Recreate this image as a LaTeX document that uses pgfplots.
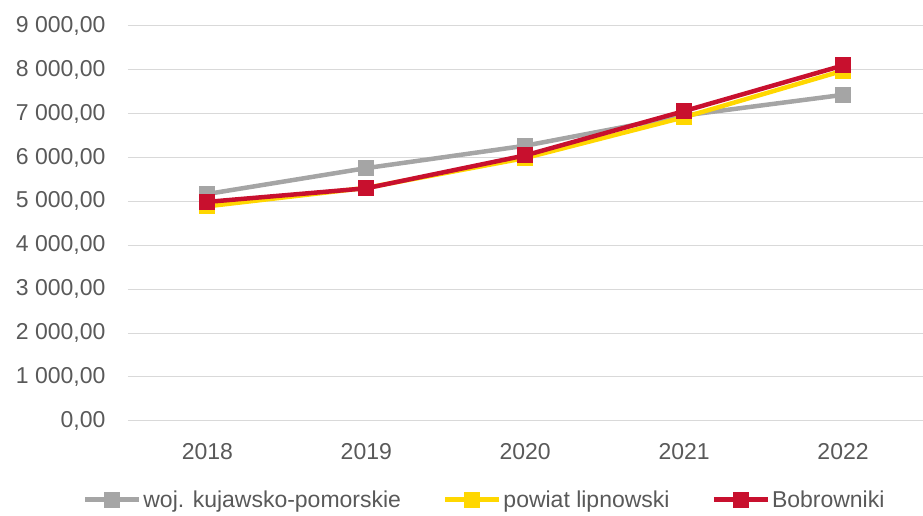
\documentclass[border=0pt]{standalone}
\usepackage{fontspec}
\setmainfont{Liberation Sans}
\usepackage{pgfplots}
\pgfplotsset{compat=1.18}
\definecolor{cgray}{HTML}{A5A5A5}
\definecolor{cyel}{HTML}{FFD700}
\definecolor{cred}{HTML}{C8102E}
\definecolor{ctext}{HTML}{595959}
\definecolor{cgrid}{HTML}{D9D9D9}
\begin{document}
\begin{tikzpicture}
\begin{axis}[
  scale only axis,
  width=795pt, height=395pt,
  xmin=-0.5, xmax=4.5,
  ymin=0, ymax=9000,
  xtick={0,1,2,3,4},
  xticklabels={2018,2019,2020,2021,2022},
  ytick={0,1000,...,9000},
  ymajorgrids,
  grid style={cgrid, line width=1pt},
  axis line style={draw=none},
  major tick length=0pt,
  tick label style={font=\fontsize{23}{27}\selectfont, text=ctext},
  yticklabel style={xshift=-19pt, /pgf/number format/fixed, /pgf/number format/fixed zerofill, /pgf/number format/precision=2, /pgf/number format/use comma, /pgf/number format/1000 sep={\ }, /pgf/number format/assume math mode=true},
  xticklabel style={yshift=-19pt, /pgf/number format/assume math mode=true},
  legend style={at={(0.449,-0.2)}, anchor=center, draw=none, fill=none,
    legend columns=-1, font=\fontsize{23}{27}\selectfont, text=ctext,
    /tikz/every even column/.append style={column sep=40pt},
    inner sep=0pt},
  legend image code/.code={\draw[#1, mark repeat=2, mark phase=2] plot coordinates {(0pt,0pt) (27pt,0pt) (54pt,0pt)};},
  every axis plot/.append style={line width=4.5pt, mark=square*, mark size=7.5pt},
]
\addplot[cgray, mark options={solid, fill=cgray, draw=cgray, line width=0pt}] coordinates {(0,5170) (1,5760) (2,6270) (3,6960) (4,7430)};
\addlegendentry{woj. kujawsko-pomorskie}
\addplot[cyel, mark options={solid, fill=cyel, draw=cyel, line width=0pt}] coordinates {(0,4890) (1,5310) (2,5990) (3,6920) (4,7980)};
\addlegendentry{powiat lipnowski}
\addplot[cred, mark options={solid, fill=cred, draw=cred, line width=0pt}] coordinates {(0,4990) (1,5300) (2,6050) (3,7060) (4,8100)};
\addlegendentry{Bobrowniki}
\end{axis}
\path (-128pt,-95pt) rectangle (795pt,421pt);
\end{tikzpicture}
\end{document}
